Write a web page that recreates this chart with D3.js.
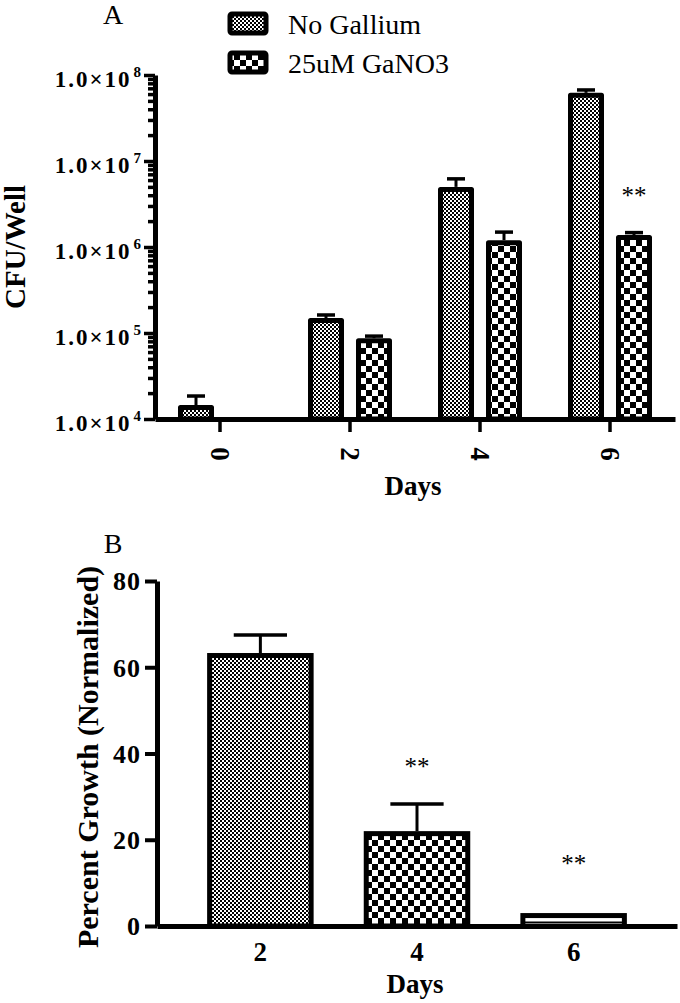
<!DOCTYPE html>
<html>
<head>
<meta charset="utf-8">
<script src="https://cdn.jsdelivr.net/npm/d3@7.9.0/dist/d3.min.js"></script>
<style>
  body { margin: 0; background: #fff; }
  svg { display: block; }
  text { font-family: "Liberation Serif", "Times New Roman", serif; fill: #000; }
</style>
</head>
<body>
<svg id="chart" width="680" height="1003"></svg>
<script>
// Panel A data (CFU per well, log scale)
const days = ['0', '2', '4', '6'];
const series = ['No Gallium', '25uM GaNO3'];
const noGalliumMean = [1.45e4, 1.49e5, 5.0e6, 6.2e7];
const noGalliumSem = [0.4e4, 0.13e5, 1.2e6, 0.5e7];
const galliumMean = [null, 8.7e4, 1.2e6, 1.38e6];
const galliumSem = [null, 0.5e4, 0.29e6, 0.09e6];
const majorTicksA = [1e4, 1e5, 1e6, 1e7, 1e8];
const starsA = [{ day: '6', series: '25uM GaNO3', at: 3.2e6 }];

// Panel B data (percent growth, normalized)
const daysB = ['2', '4', '6'];
const pctMean = [63.3, 22.0, 3.0];
const pctSem = [4.2, 6.3, 0];
const fillsB = ['fine', 'coarse', 'hlines'];
const ticksB = [0, 20, 40, 60, 80];
const starsB = [{ day: '4', at: 35 }, { day: '6', at: 12.5 }];

const svg = d3.select('#chart');
svg.append('rect').attr('width', 680).attr('height', 1003).attr('fill', '#fff');

// fill patterns
const defs = svg.append('defs');
const fine = defs.append('pattern').attr('id', 'fine')
  .attr('patternUnits', 'userSpaceOnUse').attr('width', 4).attr('height', 4);
fine.append('rect').attr('width', 4).attr('height', 4).attr('fill', '#fff');
fine.append('rect').attr('width', 2).attr('height', 2).attr('fill', '#000');
fine.append('rect').attr('x', 2).attr('y', 2).attr('width', 2).attr('height', 2).attr('fill', '#000');

const coarse = defs.append('pattern').attr('id', 'coarse')
  .attr('patternUnits', 'userSpaceOnUse').attr('width', 12).attr('height', 12);
coarse.append('rect').attr('width', 12).attr('height', 12).attr('fill', '#fff');
coarse.append('rect').attr('width', 6).attr('height', 6).attr('fill', '#000');
coarse.append('rect').attr('x', 6).attr('y', 6).attr('width', 6).attr('height', 6).attr('fill', '#000');

const hlines = defs.append('pattern').attr('id', 'hlines')
  .attr('patternUnits', 'userSpaceOnUse').attr('width', 4).attr('height', 12);
hlines.append('rect').attr('width', 4).attr('height', 12).attr('fill', '#fff');
hlines.append('rect').attr('y', 9.5).attr('width', 4).attr('height', 1.5).attr('fill', '#000');

const seriesFill = { 'No Gallium': 'fine', '25uM GaNO3': 'coarse' };

// ---------- Panel A ----------
const xA = d3.scaleBand().domain(days).range([155, 675]);
const xA1 = d3.scaleBand().domain(series).range([23, 107]).paddingInner(0.25);
const yA = d3.scaleLog().domain([1e4, 1e8]).range([419, 75]);

const rowsA = days.map((d, i) => ({
  day: d,
  values: [
    { s: series[0], mean: noGalliumMean[i], sem: noGalliumSem[i] },
    { s: series[1], mean: galliumMean[i], sem: galliumSem[i] }
  ].filter(v => v.mean != null)
}));

const gA = svg.append('g');

rowsA.forEach(row => {
  row.values.forEach(v => {
    const x0 = xA(row.day) + xA1(v.s);
    const bw = xA1.bandwidth();
    const cx = x0 + bw / 2;
    const top = yA(v.mean);
    const errTop = yA(v.mean + v.sem);
    gA.append('line')
      .attr('x1', cx).attr('x2', cx).attr('y1', top).attr('y2', errTop)
      .attr('stroke', '#000').attr('stroke-width', 3);
    gA.append('line')
      .attr('x1', cx - bw / 4).attr('x2', cx + bw / 4).attr('y1', errTop).attr('y2', errTop)
      .attr('stroke', '#000').attr('stroke-width', 3.5);
    gA.append('rect')
      .attr('x', x0 + 2.5).attr('y', top + 2.5)
      .attr('width', bw - 5).attr('height', yA(1e4) - top - 2.5)
      .attr('fill', `url(#${seriesFill[v.s]})`)
      .attr('stroke', '#000').attr('stroke-width', 5).attr('stroke-linejoin', 'round');
  });
});

// minor ticks
const minorA = yA.ticks().filter(t => !majorTicksA.includes(t));
gA.append('g').attr('transform', 'translate(155,0)')
  .call(d3.axisLeft(yA).tickValues(minorA).tickSize(7).tickSizeOuter(0).tickFormat(''))
  .call(g => g.select('.domain').remove())
  .call(g => g.selectAll('line').attr('stroke-width', 3.5));

const axA = gA.append('g').attr('transform', 'translate(155,0)')
  .call(d3.axisLeft(yA).tickValues(majorTicksA).tickSize(11).tickSizeOuter(0).tickFormat(''));
axA.select('.domain').attr('stroke-width', 5);
axA.selectAll('line').attr('stroke-width', 3.5);

majorTicksA.forEach(t => {
  const txt = gA.append('text')
    .attr('x', 141).attr('y', yA(t) + 12)
    .attr('text-anchor', 'end')
    .attr('font-size', 23).attr('font-weight', 'bold');
  txt.append('tspan').attr('letter-spacing', 2).text('1.0×10');
  txt.append('tspan').attr('dx', 2).attr('dy', -10).attr('font-size', 15)
    .attr('letter-spacing', 0)
    .text(Math.round(Math.log10(t)));
});

const axAx = gA.append('g').attr('transform', 'translate(0,419)')
  .call(d3.axisBottom(xA).tickSize(13).tickSizeOuter(0));
axAx.select('.domain').attr('stroke-width', 5);
axAx.selectAll('line').attr('stroke-width', 3.5);
axAx.selectAll('text')
  .attr('y', 0).attr('dy', null)
  .attr('transform', 'translate(0,35) rotate(90)')
  .attr('text-anchor', 'middle')
  .attr('dominant-baseline', 'central')
  .attr('font-family', '"Liberation Serif", serif')
  .attr('font-size', 27).attr('font-weight', 'bold').attr('fill', '#000');

starsA.forEach(s => {
  gA.append('text')
    .attr('x', xA(s.day) + xA1(s.series) + xA1.bandwidth() / 2)
    .attr('y', yA(s.at))
    .attr('text-anchor', 'middle').attr('font-size', 25)
    .attr('font-family', '"Liberation Sans", Arial, sans-serif')
    .text('**');
});

gA.append('text').attr('x', 413).attr('y', 495).attr('text-anchor', 'middle')
  .attr('font-size', 27).attr('font-weight', 'bold').text('Days');
gA.append('text').attr('transform', 'translate(25,247) rotate(-90)')
  .attr('text-anchor', 'middle').attr('font-size', 29).attr('font-weight', 'bold')
  .text('CFU/Well');
gA.append('text').attr('x', 113).attr('y', 24).attr('text-anchor', 'middle')
  .attr('font-size', 28).text('A');

// legend
series.forEach((s, i) => {
  const ly = 14 + i * 39;
  gA.append('rect').attr('x', 230).attr('y', ly).attr('width', 36).attr('height', 19)
    .attr('rx', 2).attr('fill', `url(#${seriesFill[s]})`)
    .attr('stroke', '#000').attr('stroke-width', 5);
  gA.append('text').attr('x', 288).attr('y', ly + 20).attr('font-size', 28).text(s);
});

// ---------- Panel B ----------
const xB = d3.scaleBand().domain(daysB).range([157, 677]).padding(0.32);
const yB = d3.scaleLinear().domain([0, 80]).range([926, 581]);
const gB = svg.append('g');

daysB.forEach((d, i) => {
  const x0 = xB(d);
  const bw = xB.bandwidth();
  const cx = x0 + bw / 2;
  const top = yB(pctMean[i]);
  if (pctSem[i] > 0) {
    const errTop = yB(pctMean[i] + pctSem[i]);
    gB.append('line').attr('x1', cx).attr('x2', cx).attr('y1', top).attr('y2', errTop)
      .attr('stroke', '#000').attr('stroke-width', 3);
    gB.append('line').attr('x1', cx - bw / 4).attr('x2', cx + bw / 4)
      .attr('y1', errTop).attr('y2', errTop)
      .attr('stroke', '#000').attr('stroke-width', 3.5);
  }
  gB.append('rect')
    .attr('x', x0 + 2.5).attr('y', top + 2.5)
    .attr('width', bw - 5).attr('height', yB(0) - top - 2.5)
    .attr('fill', `url(#${fillsB[i]})`)
    .attr('stroke', '#000').attr('stroke-width', 5);
});

const axB = gB.append('g').attr('transform', 'translate(157,0)')
  .call(d3.axisLeft(yB).tickValues(ticksB).tickSize(12).tickSizeOuter(0).tickPadding(4));
axB.select('.domain').attr('stroke-width', 5);
axB.selectAll('line').attr('stroke-width', 4);
axB.selectAll('text')
  .attr('font-family', '"Liberation Serif", serif')
  .attr('font-size', 26).attr('font-weight', 'bold').attr('fill', '#000')
  .attr('letter-spacing', 1)
  .attr('dy', '0.34em');

const axBx = gB.append('g').attr('transform', 'translate(0,926)')
  .call(d3.axisBottom(xB).tickSize(0).tickSizeOuter(0).tickPadding(16));
axBx.select('.domain').attr('stroke-width', 5);
axBx.selectAll('text')
  .attr('font-family', '"Liberation Serif", serif')
  .attr('font-size', 27).attr('font-weight', 'bold').attr('fill', '#000');

starsB.forEach(s => {
  gB.append('text')
    .attr('x', xB(s.day) + xB.bandwidth() / 2)
    .attr('y', yB(s.at))
    .attr('text-anchor', 'middle').attr('font-size', 25)
    .attr('font-family', '"Liberation Sans", Arial, sans-serif')
    .text('**');
});

gB.append('text').attr('x', 415).attr('y', 993).attr('text-anchor', 'middle')
  .attr('font-size', 27).attr('font-weight', 'bold').text('Days');
gB.append('text').attr('transform', 'translate(98,757) rotate(-90)')
  .attr('text-anchor', 'middle').attr('font-size', 30).attr('font-weight', 'bold')
  .text('Percent Growth (Normalized)');
gB.append('text').attr('x', 113).attr('y', 553).attr('text-anchor', 'middle')
  .attr('font-size', 28).text('B');
</script>
</body>
</html>
